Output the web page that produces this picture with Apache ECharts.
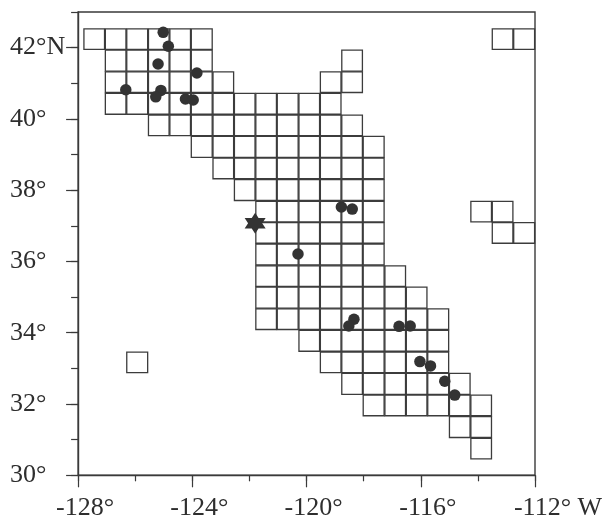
<!DOCTYPE html>
<html><head><meta charset="utf-8">
<script src="https://cdn.jsdelivr.net/npm/echarts@6/dist/echarts.min.js"></script>
<style>html,body{margin:0;background:#fff}#c{width:605px;height:520px}</style></head>
<body><div id="c"></div>
<script>
const lonEdges=[-127.81,-127.06,-126.31,-125.55,-124.80,-124.05,-123.29,-122.54,-121.79,-121.04,-120.28,-119.53,-118.78,-118.03,-117.27,-116.52,-115.77,-115.01,-114.26,-113.51,-112.76,-112.0];
const latEdges=[42.54,41.94,41.33,40.73,40.12,39.52,38.91,38.31,37.70,37.10,36.50,35.89,35.29,34.68,34.08,33.47,32.87,32.26,31.66,31.05,30.45];
// [row, first column, last column]
const cellSpans=[[0,0,5],[0,19,20],[1,1,5],[1,12,12],[2,1,6],[2,11,12],[3,1,11],[4,3,12],[5,5,13],[6,6,13],[7,7,13],[8,8,13],[8,18,19],[9,8,13],[9,19,20],[10,8,13],[11,8,14],[12,8,15],[13,8,16],[14,10,16],[15,11,16],[15,2,2],[16,12,17],[17,13,18],[18,17,18],[19,18,18]];
const eventLon=[-125.02,-124.84,-125.20,-123.84,-126.33,-125.10,-125.28,-124.24,-123.97,-120.30,-118.78,-118.40,-118.34,-118.52,-116.76,-116.37,-116.03,-115.66,-115.16,-114.81];
const eventLat=[42.43,42.04,41.54,41.29,40.82,40.80,40.62,40.56,40.53,36.21,37.53,37.47,34.38,34.19,34.18,34.19,33.19,33.07,32.64,32.25];
const mainShock=[-121.80,37.07];
const yLabelTicks=[30,32,34,36,38,40,42];

const cells=[];
cellSpans.forEach(([r,a,b])=>{for(let c=a;c<=b;c++)cells.push([lonEdges[c],latEdges[r+1],lonEdges[c+1],latEdges[r]]);});
const ink='#3a3a3a';
const font={fontFamily:'Liberation Serif',fontSize:26,color:'#2e2e2e'};
const chart=echarts.init(document.getElementById('c'),null,{renderer:'canvas'});
chart.setOption({
  animation:false,backgroundColor:'#fff',
  grid:{left:78.1,right:70,top:12,bottom:44.7,show:true,outerBoundsMode:'none',borderColor:ink,borderWidth:1.4,backgroundColor:'transparent'},
  xAxis:[
    {type:'value',min:-128,max:-112,interval:2,
     axisLine:{lineStyle:{color:ink,width:1.4}},axisTick:{length:6,lineStyle:{color:ink,width:1.2}},axisLabel:{show:false},splitLine:{show:false}},
    {type:'value',min:-128,max:-112,interval:4,position:'bottom',
     axisLine:{show:false},axisTick:{length:12,lineStyle:{color:ink,width:1.2}},splitLine:{show:false},
     axisLabel:Object.assign({show:true,margin:20,showMinLabel:true,showMaxLabel:true,hideOverlap:false,
       rich:{a:Object.assign({padding:[0,0,0,14]},font),b:Object.assign({padding:[0,0,0,46]},font)},
       formatter:v=>v===-112?'{b|-112° W}':'{a|'+v+'°}'},font)}
  ],
  yAxis:[
    {type:'value',min:30,max:43,interval:1,
     axisLine:{lineStyle:{color:ink,width:1.4}},axisTick:{length:7,lineStyle:{color:ink,width:1.2}},axisLabel:{show:false},splitLine:{show:false}},
    {type:'value',min:30,max:43,position:'left',
     axisLine:{show:false},axisTick:{length:12,customValues:yLabelTicks,lineStyle:{color:ink,width:1.2}},splitLine:{show:false},
     axisLabel:Object.assign({show:true,align:'left',margin:68,customValues:yLabelTicks,
       formatter:v=>v===42?'42°N':v+'°'},font)}
  ],
  series:[
    {type:'custom',coordinateSystem:'cartesian2d',silent:true,clip:false,data:cells,
     encode:{x:[0,2],y:[1,3]},
     renderItem(params,api){
       const p0=api.coord([api.value(0),api.value(3)]),p1=api.coord([api.value(2),api.value(1)]);
       return {type:'rect',shape:{x:p0[0]+0.4,y:p0[1]+0.4,width:p1[0]-p0[0]-0.8,height:p1[1]-p0[1]-0.8},
         style:{fill:'none',stroke:'#3c3c3c',lineWidth:1.3}};
     }},
    {type:'scatter',symbol:'circle',symbolSize:11.5,itemStyle:{color:'#333',opacity:1},silent:true,
     data:eventLon.map((x,i)=>[x,eventLat[i]])},
    {type:'scatter',symbol:'path://M50 0L64 25H93L79 50L93 75H64L50 100L36 75H7L21 50L7 25H36Z',symbolSize:21,
     itemStyle:{color:'#333',opacity:1},silent:true,data:[mainShock]}
  ]
});
</script></body></html>
